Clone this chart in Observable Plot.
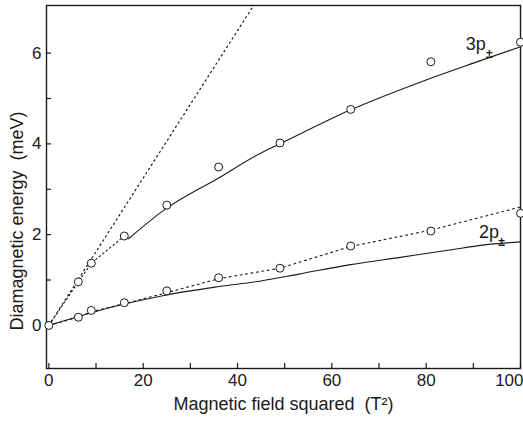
<!DOCTYPE html>
<html><head><meta charset="utf-8">
<script src="https://cdn.jsdelivr.net/npm/d3@7"></script>
<script src="https://cdn.jsdelivr.net/npm/@observablehq/plot@0.6"></script>
<style>body{margin:0;background:#fff;} #chart svg{display:block;}</style>
</head><body><div id="chart"></div>
<script>
// Measured 3p± diamagnetic energies (meV) vs B^2 (T^2)
const b2_3p = [0, 6.25, 9, 16, 25, 36, 49, 64, 81, 100];
const e_3p  = [0, 0.96, 1.37, 1.97, 2.65, 3.49, 4.02, 4.76, 5.81, 6.24];
// Measured 2p± diamagnetic energies
const b2_2p = [6.25, 9, 16, 25, 36, 49, 64, 81, 100];
const e_2p  = [0.18, 0.33, 0.5, 0.76, 1.05, 1.26, 1.75, 2.08, 2.47];
// Solid theory curve, 3p±
const fit3pX = [16.9, 24.4, 36, 45, 49, 64, 80, 90, 100];
const fit3pY = [1.91, 2.54, 3.25, 3.8, 4.0, 4.75, 5.41, 5.78, 6.14];
// Solid theory curve, 2p±
const fit2pX = [0, 16, 24.4, 35.7, 45, 53, 64, 74.5, 85, 92, 100];
const fit2pY = [0, 0.47, 0.66, 0.85, 0.98, 1.13, 1.34, 1.5, 1.66, 1.77, 1.84];
// Dotted curve through 2p± points
const dot2pX = [0, 6.25, 9, 16, 25, 36, 49, 64, 81, 100];
const dot2pY = [0, 0.18, 0.3, 0.48, 0.72, 1.03, 1.26, 1.74, 2.1, 2.61];
// Dotted low-field 3p± connection
const dot3pX = [0, 6.25, 9, 16];
const dot3pY = [0, 0.96, 1.37, 1.97];
// Steep dotted line
const steepX = [0, 43.1];
const steepY = [0, 7];
// Ticks
const xMajor = [0, 20, 40, 60, 80];
const xLast = [100];
const xMinor = [10, 30, 50, 70, 90];
const yMajor = [0, 2, 4, 6];
const yMinor = [1, 3, 5];

const zip = (xs, ys) => xs.map((x, i) => ({x, y: ys[i]}));
const font = "Liberation Sans, Arial, sans-serif";
const ink = "#1a1a1a";
const W = 523, H = 423, mL = 46, mR = 3, mT = 5, mB = 55, tick = 5;

const chart = Plot.plot({
  width: W, height: H,
  marginLeft: mL, marginRight: mR, marginTop: mT, marginBottom: mB,
  style: {fontFamily: font, fontSize: "17px", color: ink, background: "#fff"},
  x: {domain: [-0.5, 100]},
  y: {domain: [-0.95, 7.05]},
  marks: [
    Plot.axisX(xMajor, {tickSize: 0, tickPadding: 5, fontSize: 17, label: null}),
    Plot.axisX(xLast, {tickSize: 0, tickPadding: 5, fontSize: 17, label: null, textAnchor: "end", dx: 3}),
    Plot.axisY(yMajor, {tickSize: 0, tickPadding: 5, fontSize: 17, label: null}),
    Plot.tickX(xMajor.concat(xLast, xMinor), {x: d => d, stroke: ink, strokeWidth: 1.2, insetTop: H - mT - mB - tick}),
    Plot.tickY(yMajor.concat(yMinor), {y: d => d, stroke: ink, strokeWidth: 1.2, insetRight: W - mL - mR - tick}),
    Plot.text(["Magnetic field squared  (T\u00B2)"], {text: d => d, frameAnchor: "bottom", dy: 41, fontSize: 18, fill: ink}),
    Plot.text(["Diamagnetic energy  (meV)"], {text: d => d, frameAnchor: "left", textAnchor: "middle", dx: -29, dy: 34, rotate: -90, fontSize: 18, fill: ink}),
    Plot.frame({stroke: ink, strokeWidth: 1.4}),
    Plot.line(zip(steepX, steepY), {x: "x", y: "y", stroke: ink, strokeWidth: 1.2, strokeDasharray: "1.5,3.5"}),
    Plot.line(zip(dot3pX, dot3pY), {x: "x", y: "y", stroke: ink, strokeWidth: 1.1, strokeDasharray: "1.5,3"}),
    Plot.line(zip(dot2pX, dot2pY), {x: "x", y: "y", stroke: ink, strokeWidth: 1.1, strokeDasharray: "2,3.5"}),
    Plot.line(zip(fit3pX, fit3pY), {x: "x", y: "y", stroke: ink, strokeWidth: 1.1, curve: "monotone-x"}),
    Plot.line(zip(fit2pX, fit2pY), {x: "x", y: "y", stroke: ink, strokeWidth: 1.1, curve: "monotone-x"}),
    Plot.dot(zip(b2_3p, e_3p), {x: "x", y: "y", r: 4, stroke: ink, strokeWidth: 1, fill: "white"}),
    Plot.dot(zip(b2_2p, e_2p), {x: "x", y: "y", r: 4, stroke: ink, strokeWidth: 1, fill: "white"}),
    Plot.text(["3p"], {x: 90.5, y: 6.2, text: d => d, fontSize: 18, fill: ink}),
    Plot.text(["\u00B1"], {x: 93.4, y: 5.98, text: d => d, fontSize: 12, fontWeight: "bold", fill: ink}),
    Plot.text(["2p"], {x: 93.3, y: 2.05, text: d => d, fontSize: 18, fill: ink}),
    Plot.text(["\u00B1"], {x: 96.0, y: 1.83, text: d => d, fontSize: 12, fontWeight: "bold", fill: ink})
  ]
});
document.getElementById("chart").appendChild(chart);
</script>
</body></html>
